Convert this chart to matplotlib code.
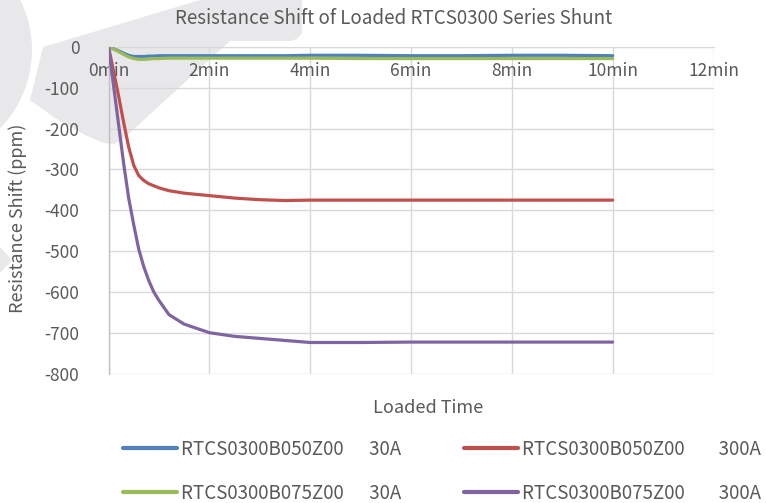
import numpy as np
import matplotlib
matplotlib.use("Agg")
import matplotlib.pyplot as plt
from matplotlib.patches import Polygon

plt.rcParams['font.family'] = ['Noto Sans CJK SC', 'DejaVu Sans']

# ---------------- data ----------------
t_min = [0, 0.1, 0.2, 0.3, 0.4, 0.5, 0.6, 0.7, 0.8, 0.9, 1.0, 1.2, 1.5,
         2.0, 2.5, 3.0, 3.5, 4.0, 5.0, 6.0, 7.0, 8.0, 9.0, 10.0]

b050_30A = [0, -5, -10, -16, -21, -24, -24, -24, -23, -23, -22, -22, -22,
            -22, -22, -22, -22, -21, -21, -22, -22, -21, -21, -22]
b050_300A = [0, -60, -120, -185, -245, -290, -315, -327, -335, -340, -345, -352, -358,
             -364, -370, -374, -376, -375, -375, -375, -375, -375, -375, -375]
b075_30A = [0, -6, -12, -19, -25, -29, -31, -31, -30, -29, -29, -28, -28,
            -28, -28, -28, -28, -28, -29, -29, -29, -29, -29, -29]
b075_300A = [0, -95, -190, -285, -370, -435, -495, -538, -572, -600, -620, -655, -678,
             -699, -708, -713, -718, -723, -723, -722, -722, -722, -722, -722]

series_labels = ["RTCS0300B050Z00      30A", "RTCS0300B050Z00        300A",
                 "RTCS0300B075Z00      30A", "RTCS0300B075Z00        300A"]
series_colors = ["#4F81BD", "#C0504D", "#9BBB59", "#8064A2"]

x_ticks = [0, 2, 4, 6, 8, 10, 12]
x_ticklabels = ["0min", "2min", "4min", "6min", "8min", "10min", "12min"]
y_ticks = [0, -100, -200, -300, -400, -500, -600, -700, -800]

title = "Resistance Shift of Loaded RTCS0300 Series Shunt"
xlabel = "Loaded Time"
ylabel = "Resistance Shift (ppm)"

# ---------------- figure ----------------
W, H = 766, 503
fig = plt.figure(figsize=(W / 100, H / 100), dpi=100)

def fx(px):
    return px / W

def fy(py):
    return 1 - py / H

# watermark (background logo)
wm = "#E8E8EA"
band = [(200, 0), (302, 0), (302, 33), (297, 39), (290, 41), (230, 41),
        (122, 140), (114, 144), (104, 143), (85, 135), (55, 118), (30, 100), (43, 47)]
ang = np.linspace(-np.pi / 2, np.pi / 2, 60)
cx, cy, r = -80, 50, 112
arc = [(cx + r * np.cos(a), cy + r * np.sin(a)) for a in ang]
tri = [(0, 247), (12, 260), (0, 273)]
for shape in (band, arc, tri):
    fig.patches.append(Polygon([(fx(x), fy(y)) for x, y in shape], closed=True,
                               transform=fig.transFigure, facecolor=wm,
                               edgecolor='none', zorder=-5))

x0, x1 = 108.5, 713.5
y0, y1 = 46.7, 374.0
ax = fig.add_axes([fx(x0), fy(y1), (x1 - x0) / W, (y1 - y0) / H])
ax.set_zorder(2)
ax.patch.set_alpha(0)

data = [b050_30A, b050_300A, b075_30A, b075_300A]
handles = []
for vals, lab, col in zip(data, series_labels, series_colors):
    ln, = ax.plot(t_min, vals, color=col, lw=2.3, label=lab,
                  solid_capstyle='round', solid_joinstyle='round', zorder=3)
    handles.append(ln)

ax.set_xlim(0, 12)
ax.set_ylim(-800, 0)
ax.set_xticks(x_ticks)
ax.set_xticklabels(x_ticklabels)
ax.set_yticks(y_ticks)
ax.set_yticklabels([str(v) for v in y_ticks])

grid_c = "#D9D9D9"
ax.grid(True, color=grid_c, lw=1.0, zorder=1)
ax.set_axisbelow(True)

for s in ['top', 'right']:
    ax.spines[s].set_visible(False)
ax.spines['bottom'].set_position(('data', 0))
ax.spines['bottom'].set_color(grid_c)
ax.spines['left'].set_color("#BFBFBF")
ax.spines['left'].set_linewidth(1.0)

txt_c = "#595959"
ax.tick_params(axis='both', length=0, colors=txt_c, labelsize=12.5)
ax.tick_params(axis='x', pad=11)
ax.tick_params(axis='y', pad=21)

fig.text(fx(394), fy(18), title, ha='center', va='center', fontsize=13.5, color=txt_c)
fig.text(fx(428), fy(408), xlabel, ha='center', va='center', fontsize=13, color=txt_c)
fig.text(fx(18), fy(218), ylabel, ha='center', va='center', rotation=90,
         fontsize=13, color=txt_c)

order = [0, 2, 1, 3]
leg = fig.legend([handles[i] for i in order], [series_labels[i] for i in order],
                 ncol=2, loc='upper left', bbox_to_anchor=(fx(123), fy(439)),
                 frameon=False, fontsize=13.5, handlelength=2.9, handletextpad=0.18,
                 columnspacing=3.35, labelspacing=1.22, borderaxespad=0, borderpad=0)
for t in leg.get_texts():
    t.set_color(txt_c)
for l in leg.get_lines():
    l.set_linewidth(3)

fig.savefig("out.png", dpi=100)
